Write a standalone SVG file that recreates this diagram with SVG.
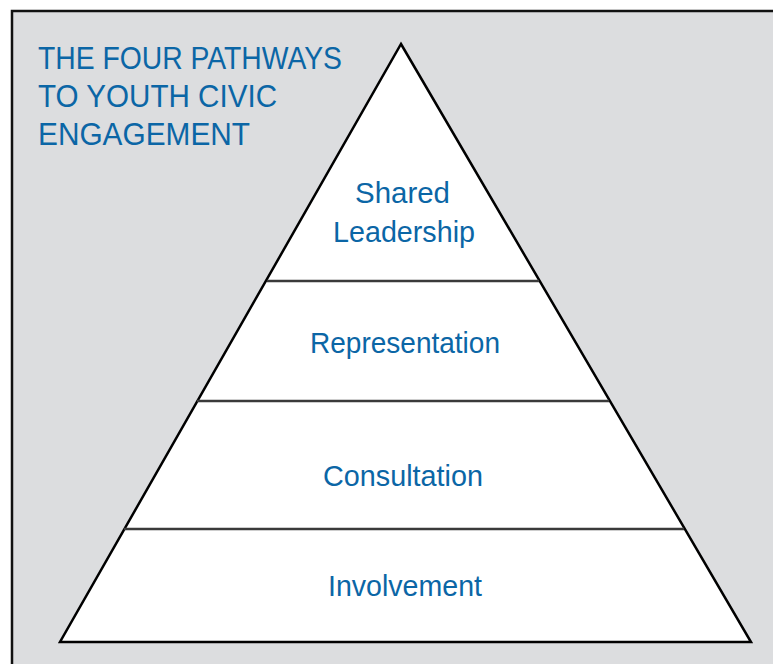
<svg xmlns="http://www.w3.org/2000/svg" width="774" height="664" viewBox="0 0 774 664">
<style>
.t{font-family:"Liberation Sans",Arial,sans-serif;fill:#0b66a6;font-size:30px}
.h{font-family:"Liberation Sans",Arial,sans-serif;fill:#0b66a6;font-size:32px}
.c{text-anchor:middle}
.div{stroke:#3a3a3a;stroke-width:2.5;fill:none}
</style>
<rect x="0" y="0" width="774" height="664" fill="#ffffff"/>
<rect x="12" y="11" width="761" height="660" fill="#dcdddf"/>
<path d="M12 670 V11 H773" fill="none" stroke="#111" stroke-width="2.5"/>
<g id="title">
<text class="h" x="38" y="69" textLength="304" lengthAdjust="spacingAndGlyphs">THE FOUR PATHWAYS</text>
<text class="h" x="38" y="107" textLength="239" lengthAdjust="spacingAndGlyphs">TO YOUTH CIVIC</text>
<text class="h" x="38" y="145" textLength="212" lengthAdjust="spacingAndGlyphs">ENGAGEMENT</text>
</g>
<g id="pyramid">
<polygon points="401,44 751,642 60,642" fill="#ffffff" stroke="#000" stroke-width="2.5" stroke-linejoin="miter"/>
</g>
<g id="connectors">
<line class="div" x1="267" y1="281" x2="539" y2="281"/>
<line class="div" x1="197" y1="401" x2="609" y2="401"/>
<line class="div" x1="124" y1="529" x2="684" y2="529"/>
</g>
<g id="shared-leadership">
<text class="t" x="355" y="203" textLength="95" lengthAdjust="spacingAndGlyphs">Shared</text>
<text class="t" x="333" y="242" textLength="142" lengthAdjust="spacingAndGlyphs">Leadership</text>
</g>
<g id="representation">
<text class="t" x="310" y="353" textLength="190" lengthAdjust="spacingAndGlyphs">Representation</text>
</g>
<g id="consultation">
<text class="t" x="323" y="486" textLength="160" lengthAdjust="spacingAndGlyphs">Consultation</text>
</g>
<g id="involvement">
<text class="t" x="328" y="596" textLength="154" lengthAdjust="spacingAndGlyphs">Involvement</text>
</g>
</svg>
